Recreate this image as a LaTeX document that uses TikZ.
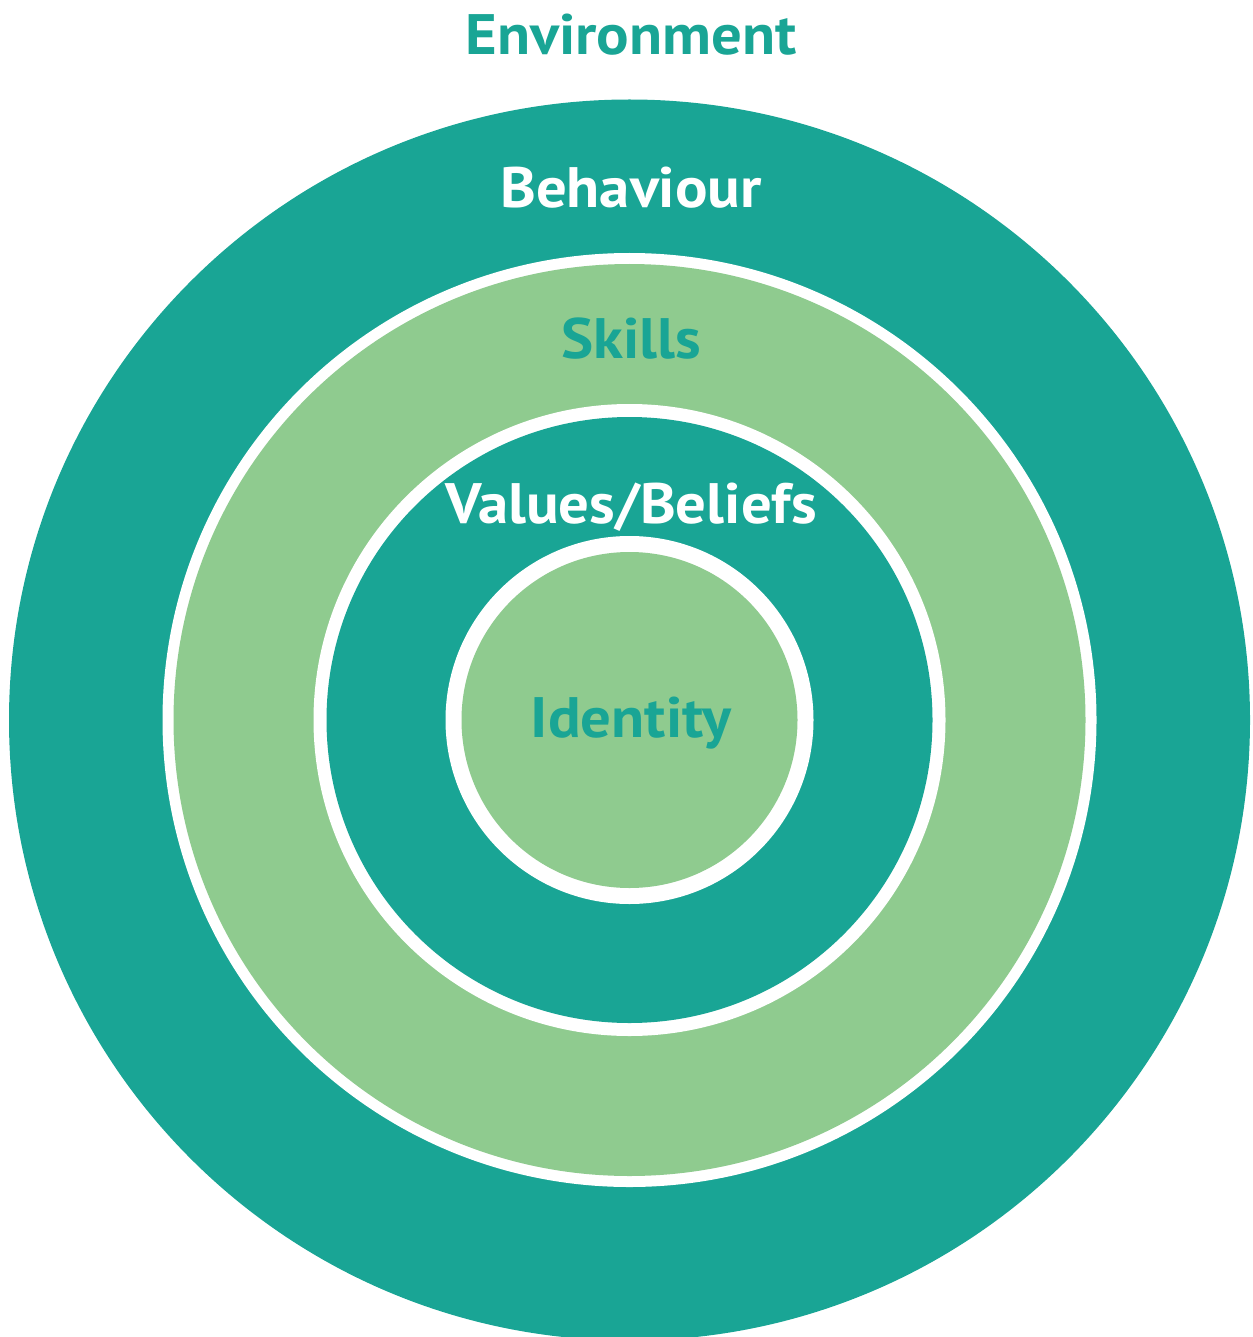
\documentclass[tikz,border=0pt]{standalone}
\usepackage{fontspec}
\setmainfont{PT Sans}
\definecolor{teal}{HTML}{19A595}
\definecolor{leaf}{HTML}{8FCB8F}
% labels are set slightly wider than the font's natural width
\newcommand{\widetext}[1]{\scalebox{1.065}[1]{#1}}
\begin{document}
\begin{tikzpicture}[x=1pt,y=-1pt,
  label/.style={font=\bfseries\fontsize{57}{60}\selectfont,anchor=base,inner sep=0pt}]
\useasboundingbox (0,0) rectangle (1252,1337);
\begin{scope}
\clip (0,0) rectangle (1252,1337);
% outer environment disc
\fill[teal] (629.5,720) circle (620.5);
% skills: white rim then green disc
\fill[white] (629.5,720) circle (467);
\fill[leaf] (629.5,720) circle (456);
% values/beliefs
\fill[white] (629.5,720) circle (316);
\fill[teal] (629.5,720) circle (303);
% identity
\fill[white] (629.5,720) circle (184);
\fill[leaf] (629.5,720) circle (168);
\end{scope}
\node[label,text=teal] (env) at (631,55) {\widetext{Environment}};
\node[label,text=white] (beh) at (631,208) {\widetext{Behaviour}};
\node[label,text=teal] (ski) at (631,358) {\widetext{Skills}};
\node[label,text=white] (val) at (631,523) {\widetext{Values/Beliefs}};
\node[label,text=teal] (ide) at (631,737) {\widetext{Identity}};
\end{tikzpicture}
\end{document}
